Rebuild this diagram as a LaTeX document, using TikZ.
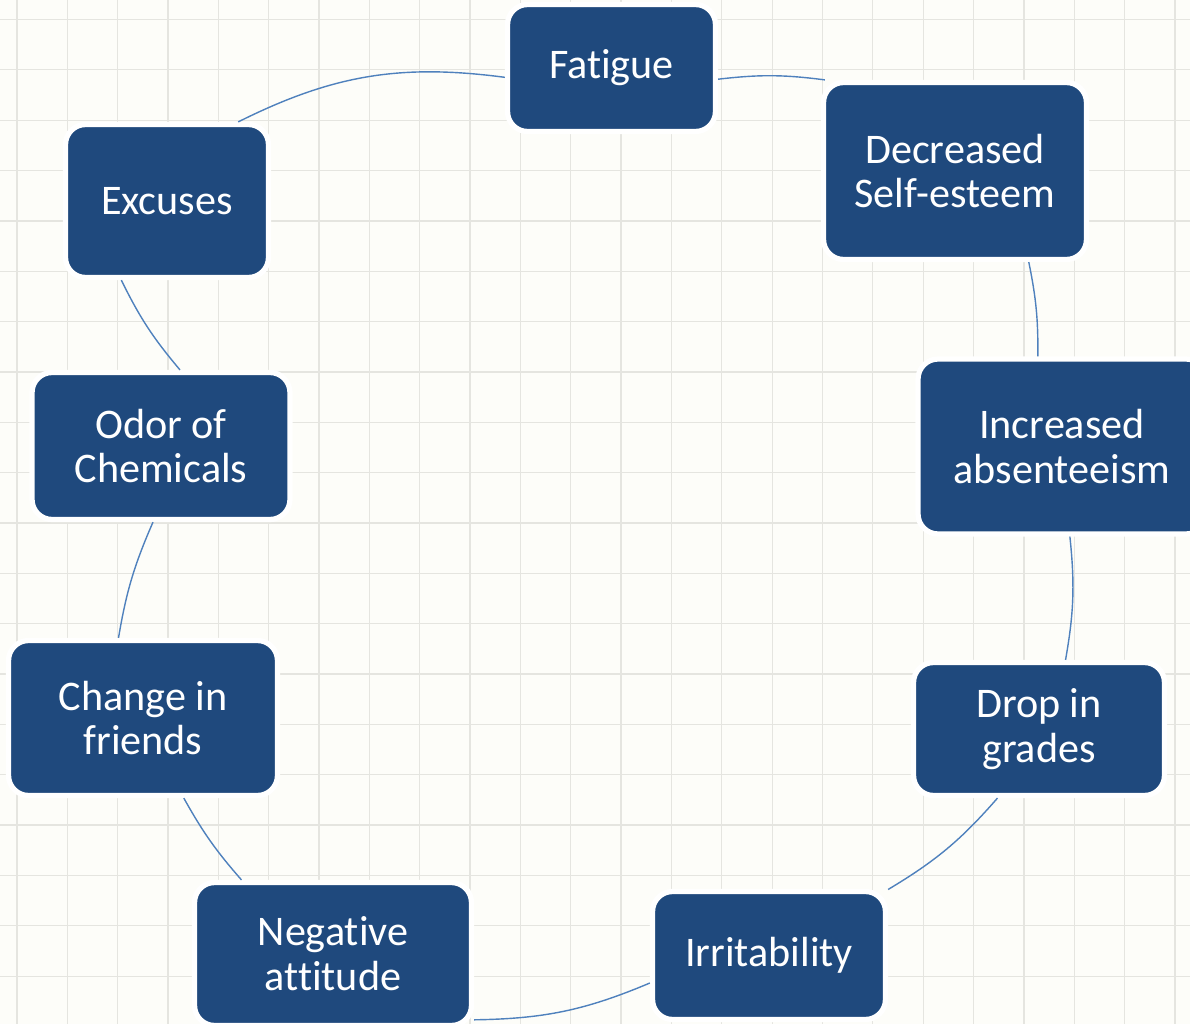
\documentclass[tikz,border=0pt]{standalone}
\usepackage{fontspec}
\setmainfont{Carlito}[Ligatures=NoCommon]
\usetikzlibrary{positioning}
\usepackage{xcolor}
\definecolor{boxblue}{RGB}{31,73,125}
\definecolor{linkblue}{RGB}{79,129,189}
\definecolor{paper}{RGB}{253,253,249}
\definecolor{gridgray}{RGB}{229,229,224}

\begin{document}
\begin{tikzpicture}[
    x=0.02cm, y=-0.02cm,
    stage/.style={rectangle, rounded corners=0.4cm, fill=boxblue, draw=white,
                  line width=3pt, text=white, align=center, inner sep=0pt,
                  font=\fontsize{24}{25.5}\selectfont},
    cycleline/.style={draw=linkblue, line width=0.8pt},
    gridline/.style={draw=gridgray, line width=0.7pt},
]

% Paper and grid
\fill[paper] (0,0) rectangle (1190,1024);
\useasboundingbox (0,0) rectangle (1190,1024);
\foreach \i in {0,...,23} \draw[gridline] ({16.9+50.35*\i},0) -- ++(0,1024);
\foreach \j in {0,...,20} \draw[gridline] (0,{19.5+50.35*\j}) -- ++(1190,0);

% Stages of the cycle
\node[stage, minimum width=4.16cm, minimum height=2.54cm] (fatigue) at (611.5,68) {Fatigue};
\node[stage, minimum width=5.26cm, minimum height=3.54cm] (selfesteem) at (955,171) {Decreased\\Self-esteem};
\node[stage, minimum width=5.76cm, minimum height=3.5cm] (absent) at (1062,446.5) {Increased\\absenteeism};
\node[stage, minimum width=5.02cm, minimum height=2.66cm] (grades) at (1039,729) {Drop in\\grades};
\node[stage, minimum width=4.66cm, minimum height=2.56cm] (irritable) at (769,955.5) {Irritability};
\node[stage, minimum width=5.54cm, minimum height=2.86cm] (attitude) at (333,954) {Negative\\attitude};
\node[stage, minimum width=5.38cm, minimum height=3.1cm] (friends) at (143,718) {Change in\\friends};
\node[stage, minimum width=5.16cm, minimum height=2.94cm] (odor) at (161,446) {Odor of\\Chemicals};
\node[stage, minimum width=4.06cm, minimum height=3.06cm] (excuses) at (167,201) {Excuses};

% Connecting arcs
\draw[cycleline] (excuses.48) to[bend left=17] (fatigue.185);
\draw[cycleline] (fatigue.354) to[bend left=7] (selfesteem.145);
\draw[cycleline] (selfesteem.309) to[bend left=6] (absent.105);
\draw[cycleline] (absent.275) to[bend left=8] (grades.69);
\draw[cycleline] (grades.239) to[bend left=9] (irritable.29);
\draw[cycleline] (irritable.193) to[bend left=11] (attitude.335);
\draw[cycleline] (attitude.141) to[bend left=6] (friends.297);
\draw[cycleline] (friends.107) to[bend left=7] (odor.264);
\draw[cycleline] (odor.76) to[bend left=7] (excuses.240);

\end{tikzpicture}
\end{document}
